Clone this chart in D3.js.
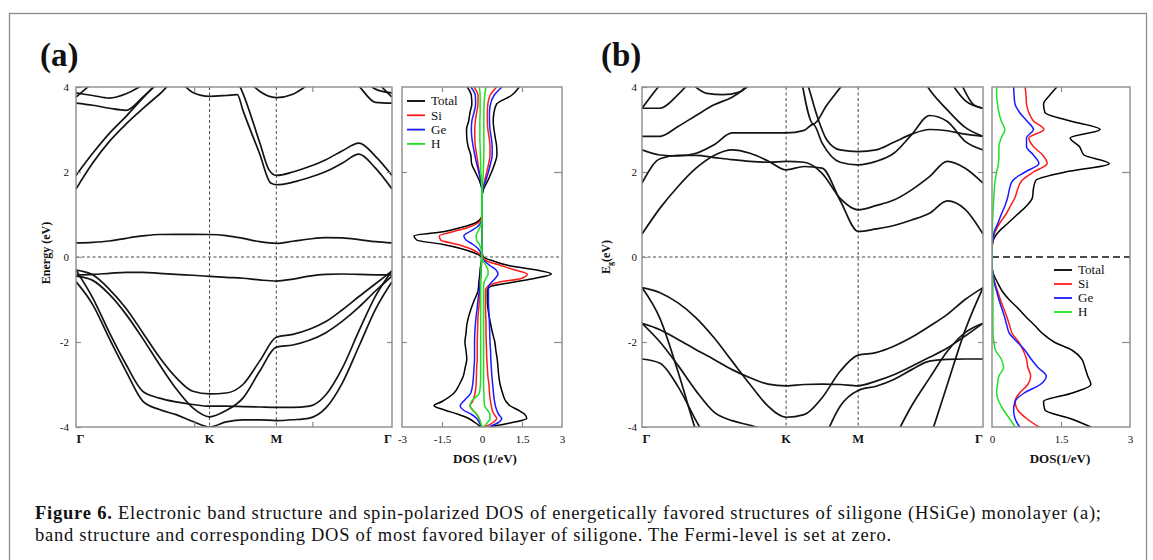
<!DOCTYPE html>
<html>
<head>
<meta charset="utf-8">
<script src="https://cdn.jsdelivr.net/npm/d3@7"></script>
<style>
  body { margin: 0; background: #fff; }
  svg text { font-family: "Liberation Serif", "Times New Roman", serif; fill: #111; }
</style>
</head>
<body>
<svg id="fig" width="1153" height="560"></svg>
<script>
// k-path Γ-K-M-Γ in units of π/a
const kPath = [0, 0.1667, 0.3333, 0.5, 0.6667, 0.8333, 1.0, 1.1667, 1.3333, 1.5, 1.6667, 1.8333, 2.0, 2.165, 2.33, 2.495, 2.66, 2.825, 2.99, 3.155];
const symK = [0, 1.3333, 2.0, 3.155];
const symLabels = ["Γ", "K", "M", "Γ"];
const energyTicks = [-4, -2, 0, 2, 4];

// ---- panel (a) bands (eV) ----
const aFlatUp   = [0.33, 0.345, 0.377, 0.44, 0.495, 0.53, 0.534, 0.534, 0.53, 0.503, 0.44, 0.36, 0.322, 0.37, 0.424, 0.455, 0.448, 0.41, 0.36, 0.33];
const aFlatDown = [-0.424, -0.41, -0.385, -0.36, -0.36, -0.385, -0.41, -0.43, -0.455, -0.48, -0.50, -0.54, -0.566, -0.52, -0.45, -0.41, -0.40, -0.41, -0.42, -0.424];
const aVal1 = [-0.31, -0.42, -0.76, -1.21, -1.78, -2.36, -2.84, -3.16, -3.22, -3.20, -3.00, -2.45, -1.89, -1.82, -1.70, -1.52, -1.24, -0.93, -0.63, -0.33];
const aVal2 = [-0.45, -0.55, -0.88, -1.35, -1.92, -2.53, -3.10, -3.55, -3.76, -3.61, -3.32, -2.69, -2.12, -2.07, -1.96, -1.78, -1.51, -1.18, -0.80, -0.45];
const aVal3 = [-0.31, -0.96, -1.78, -2.53, -3.16, -3.32, -3.41, -3.47, -3.51, -3.51, -3.52, -3.53, -3.54, -3.54, -3.51, -3.24, -2.61, -1.74, -0.92, -0.33];
const aVal4 = [-0.58, -1.12, -1.92, -2.69, -3.39, -3.59, -3.71, -3.87, -4.00, -3.88, -3.83, -3.83, -3.85, -3.83, -3.79, -3.55, -2.96, -2.10, -1.23, -0.58];
const aCond1K = [0, 0.1667, 0.3333, 0.5, 0.6667, 0.8333, 1.0, 1.1667, 1.3333, 1.5, 1.611, 1.6667, 1.8333, 1.944, 2.0, 2.165, 2.33, 2.495, 2.66, 2.825, 2.99, 3.155];
const aCond1E = [1.60, 2.21, 2.72, 3.13, 3.49, 3.83, 4.15, 3.87, 3.78, 3.80, 3.82, 3.45, 2.43, 1.74, 1.70, 1.76, 1.87, 2.01, 2.21, 2.42, 2.09, 1.60];
const aCond2K = [0, 0.1667, 0.3333, 0.5, 0.6667, 0.8333, 1.0, 1.1667, 1.3333, 1.5, 1.6667, 1.8333, 1.927, 2.0, 2.165, 2.33, 2.495, 2.66, 2.825, 2.99, 3.155];
const aCond2E = [1.92, 2.44, 2.91, 3.31, 3.74, 4.13, 4.5, 4.8, 4.9, 4.6, 3.85, 2.70, 2.05, 1.92, 2.0, 2.13, 2.29, 2.50, 2.68, 2.37, 1.92];
const aTopMK = [1.6667, 1.8333, 2.0, 2.165, 2.33, 2.495];
const aTopME = [4.3, 3.90, 3.75, 3.83, 4.08, 4.4];
const aTop1K = [0, 0.1667, 0.3333, 0.5, 0.6667, 0.8333];
const aTop1E = [3.62, 3.57, 3.50, 3.45, 3.76, 4.15];
const aTop1rK = [2.66, 2.825, 2.99, 3.155];
const aTop1rE = [4.4, 4.02, 3.64, 3.62];
const aTop2K = [0, 0.1667, 0.3333, 0.5, 0.6667];
const aTop2E = [3.86, 3.80, 3.74, 3.84, 4.05];
const aTop2rK = [2.825, 2.99, 3.155];
const aTop2rE = [4.3, 3.95, 3.86];
const aTop3K = [0, 0.1667];
const aTop3E = [3.76, 4.1];
const aTop3rK = [2.99, 3.155];
const aTop3rE = [4.15, 3.76];

// ---- panel (b) bands (eV) ----
const bCond1 = [0.54, 1.15, 1.66, 2.09, 2.39, 2.52, 2.44, 2.26, 2.05, 2.13, 2.09, 1.33, 0.60, 0.66, 0.74, 0.87, 1.03, 1.32, 1.12, 0.54];
const bCond2 = [1.74, 2.31, 2.39, 2.39, 2.34, 2.29, 2.25, 2.23, 2.25, 2.23, 1.97, 1.38, 1.11, 1.21, 1.34, 1.58, 1.89, 2.25, 2.09, 1.74];
const bCond3K = [0, 0.1667, 0.3333, 0.5, 0.6667, 0.8333, 1.0, 1.1667, 1.3333, 1.5, 1.585, 1.6667, 1.8333, 2.0, 2.165, 2.33, 2.495, 2.66, 2.825, 2.99, 3.155];
const bCond3E = [2.52, 2.40, 2.38, 2.44, 2.64, 2.92, 2.92, 2.92, 2.92, 2.98, 3.12, 2.68, 2.23, 2.17, 2.25, 2.44, 2.88, 3.33, 3.19, 2.72, 2.52];
const bVeeK = [1.48, 1.585, 1.709, 1.87];
const bVeeE = [4.1, 3.13, 3.57, 4.1];
const bCond5K = [1.50, 1.539, 1.616, 1.709, 1.833, 2.0, 2.165, 2.33, 2.495, 2.66, 2.825, 2.99, 3.155];
const bCond5E = [4.3, 4.01, 3.35, 2.76, 2.52, 2.48, 2.52, 2.70, 2.89, 3.0, 2.97, 2.89, 2.84];
const bTopRK = [2.55, 2.66, 2.825, 2.99, 3.155];
const bTopRE = [4.4, 3.94, 3.46, 3.05, 2.84];
const bTopR2K = [2.86, 2.99, 3.155];
const bTopR2E = [4.1, 3.68, 3.5];
const bTopR3K = [2.95, 3.07, 3.155];
const bTopR3E = [4.1, 3.58, 3.5];
const bTopL1K = [0, 0.1667, 0.3333, 0.5, 0.6667, 0.8333, 1.0];
const bTopL1E = [2.84, 2.84, 3.07, 3.33, 3.58, 3.76, 4.05];
const bTopL2K = [0, 0.1667, 0.3333, 0.5];
const bTopL2E = [3.5, 3.5, 3.82, 4.3];
const bTopL3K = [0, 0.1667, 0.3333];
const bTopL3E = [3.5, 4.05, 4.5];
const bWiggleK = [0.45, 0.6, 0.75, 0.9, 1.0];
const bWiggleE = [4.1, 3.85, 3.82, 3.88, 4.15];
const bVal1 = [-0.72, -0.84, -1.08, -1.43, -1.90, -2.45, -3.0, -3.51, -3.77, -3.71, -3.31, -2.69, -2.31, -2.25, -2.10, -1.89, -1.63, -1.35, -1.0, -0.72];
const bVal3 = [-1.56, -1.71, -1.94, -2.18, -2.41, -2.65, -2.84, -2.99, -3.03, -3.0, -2.99, -3.0, -3.03, -2.92, -2.77, -2.57, -2.36, -2.14, -1.86, -1.56];
const bVal2K = [0, 0.1667, 0.3333, 0.5, 0.6667];
const bVal2E = [-0.72, -1.45, -2.7, -4.1, -5.3];
const bVal4K = [0, 0.1667, 0.3333, 0.5, 0.6667];
const bVal4E = [-2.40, -2.50, -3.05, -3.85, -4.6];
const bVal5K = [0, 0.1667, 0.3333, 0.5, 0.6667, 0.8333, 1.0, 1.1667];
const bVal5E = [-1.56, -2.0, -2.55, -3.15, -3.65, -3.85, -3.96, -4.1];
const bVal6K = [1.6667, 1.8333, 2.0, 2.165, 2.33, 2.495, 2.66, 2.825, 2.99, 3.155];
const bVal6E = [-4.4, -3.51, -3.14, -3.04, -2.88, -2.65, -2.45, -2.41, -2.40, -2.40];
const bVal7K = [2.33, 2.495, 2.66, 2.825, 2.99, 3.155];
const bVal7E = [-4.3, -3.5, -2.85, -2.22, -1.78, -1.56];
const bVal8K = [2.66, 2.825, 2.99, 3.155];
const bVal8E = [-4.3, -3.0, -1.72, -0.72];

// ---- DOS (a), spin-polarized (1/eV) ----
const dosEnergyA = [4.0, 3.8, 3.6, 3.4, 3.2, 3.0, 2.8, 2.6, 2.4, 2.2, 2.0, 1.8, 1.6,
  1.4, 1.2, 1.0, 0.9, 0.8, 0.7, 0.6, 0.5, 0.4, 0.3, 0.2, 0.1, 0.0,
  -0.1, -0.2, -0.3, -0.4, -0.5, -0.6, -0.7, -0.8, -1.0, -1.2, -1.4, -1.6, -1.8, -2.0,
  -2.2, -2.4, -2.6, -2.8, -3.0, -3.2, -3.4, -3.5, -3.6, -3.7, -3.8, -3.9, -4.0];
const totalUpA = [1.40, 1.10, 0.55, 0.45, 0.42, 0.45, 0.50, 0.55, 0.56, 0.48, 0.36, 0.22, 0.06,
  0, 0, 0, 0, 0, 0, 0, 0, 0, 0, 0, 0.01, 0.05,
  0.45, 1.0, 2.0, 2.6, 2.0, 1.1, 0.3, 0.2, 0.2, 0.22, 0.27, 0.33, 0.4, 0.48,
  0.52, 0.57, 0.6, 0.63, 0.68, 0.77, 0.9, 1.05, 1.35, 1.6, 1.68, 1.1, 0.25];
const siUpA = [0.55, 0.30, 0.22, 0.20, 0.20, 0.22, 0.27, 0.30, 0.30, 0.25, 0.18, 0.10, 0.03,
  0, 0, 0, 0, 0, 0, 0, 0, 0, 0, 0, 0, 0.02,
  0.2, 0.7, 1.2, 1.7, 1.5, 0.6, 0.2, 0.13, 0.13, 0.13, 0.14, 0.15, 0.15, 0.16,
  0.17, 0.18, 0.2, 0.22, 0.26, 0.28, 0.32, 0.35, 0.38, 0.45, 0.55, 0.4, 0.1];
const geUpA = [0.75, 0.45, 0.32, 0.28, 0.28, 0.30, 0.35, 0.38, 0.38, 0.32, 0.24, 0.14, 0.04,
  0, 0, 0, 0, 0, 0, 0, 0, 0, 0, 0, 0, 0.01,
  0.1, 0.3, 0.52, 0.6, 0.5, 0.35, 0.24, 0.24, 0.24, 0.25, 0.27, 0.28, 0.29, 0.3,
  0.32, 0.33, 0.35, 0.37, 0.4, 0.43, 0.47, 0.5, 0.55, 0.62, 0.74, 0.6, 0.25];
const hUpA = [0.15, 0.10, 0.08, 0.07, 0.07, 0.07, 0.07, 0.07, 0.07, 0.06, 0.05, 0.03, 0.01,
  0, 0, 0, 0, 0, 0, 0, 0, 0, 0, 0, 0, 0.01,
  0.05, 0.15, 0.22, 0.23, 0.15, 0.08, 0.06, 0.06, 0.06, 0.06, 0.06, 0.06, 0.06, 0.06,
  0.06, 0.06, 0.06, 0.06, 0.06, 0.07, 0.08, 0.1, 0.2, 0.3, 0.3, 0.2, 0.05];
const totalDnA = [-0.55, -0.40, -0.38, -0.45, -0.50, -0.58, -0.57, -0.52, -0.42, -0.39, -0.25, -0.10, -0.01,
  0, 0, 0, -0.05, -0.25, -0.75, -1.4, -2.55, -2.45, -1.5, -0.8, -0.3, -0.02,
  -0.02, -0.05, -0.07, -0.08, -0.1, -0.12, -0.13, -0.15, -0.28, -0.4, -0.5, -0.57, -0.6, -0.64,
  -0.6, -0.57, -0.63, -0.7, -0.85, -1.05, -1.5, -1.8, -1.4, -0.9, -0.5, -0.25, -0.05];
const siDnA = [-0.30, -0.15, -0.15, -0.20, -0.25, -0.27, -0.27, -0.25, -0.20, -0.15, -0.10, -0.04, 0,
  0, 0, 0, -0.03, -0.15, -0.5, -1.05, -1.6, -1.55, -0.95, -0.45, -0.15, 0,
  -0.01, -0.02, -0.03, -0.04, -0.05, -0.06, -0.07, -0.08, -0.1, -0.12, -0.15, -0.16, -0.17, -0.18,
  -0.18, -0.18, -0.2, -0.21, -0.22, -0.26, -0.35, -0.45, -0.35, -0.2, -0.12, -0.06, 0];
const geDnA = [-0.42, -0.25, -0.24, -0.30, -0.38, -0.40, -0.38, -0.33, -0.27, -0.20, -0.12, -0.05, 0,
  0, 0, 0, 0, -0.05, -0.2, -0.45, -0.68, -0.6, -0.35, -0.15, -0.05, 0,
  -0.02, -0.03, -0.04, -0.05, -0.06, -0.07, -0.08, -0.1, -0.15, -0.18, -0.22, -0.25, -0.27, -0.28,
  -0.28, -0.28, -0.3, -0.32, -0.35, -0.42, -0.7, -0.82, -0.7, -0.4, -0.2, -0.1, -0.02];
const hDnA = [-0.10, -0.07, -0.07, -0.07, -0.08, -0.08, -0.08, -0.07, -0.06, -0.05, -0.04, -0.02, 0,
  0, 0, 0, 0, -0.02, -0.08, -0.15, -0.22, -0.2, -0.1, -0.04, -0.01, 0,
  -0.02, -0.03, -0.04, -0.04, -0.05, -0.05, -0.05, -0.05, -0.05, -0.05, -0.05, -0.05, -0.05, -0.05,
  -0.05, -0.05, -0.05, -0.05, -0.06, -0.1, -0.4, -0.45, -0.35, -0.2, -0.1, -0.05, -0.01];

// ---- DOS (b) (1/eV) ----
const dosEnergyB = [4.0, 3.8, 3.6, 3.4, 3.2, 3.0, 2.8, 2.6, 2.4, 2.2, 2.0, 1.8, 1.6, 1.4, 1.2, 1.0, 0.8, 0.6, 0.4, 0.2,
  0.0, -0.2, -0.4, -0.6, -0.8, -1.0, -1.2, -1.4, -1.6, -1.8, -2.0, -2.2, -2.4, -2.6, -2.8, -3.0, -3.2, -3.4, -3.6, -3.8, -4.0];
const totalB = [1.41, 1.25, 1.12, 1.15, 1.7, 2.35, 1.7, 1.9, 2.0, 2.55, 1.6, 0.95, 0.9, 0.88, 0.75, 0.55, 0.35, 0.15, 0.03, 0,
  0, 0, 0.03, 0.12, 0.22, 0.37, 0.56, 0.73, 0.92, 1.1, 1.35, 1.75, 1.95, 2.02, 2.08, 2.15, 1.75, 1.12, 1.15, 1.7, 2.15];
const siB = [0.72, 0.74, 0.75, 0.8, 0.9, 1.13, 0.8, 0.9, 1.1, 1.2, 0.9, 0.65, 0.56, 0.5, 0.4, 0.3, 0.17, 0.07, 0.02, 0,
  0, 0, 0.02, 0.06, 0.12, 0.18, 0.25, 0.32, 0.38, 0.44, 0.58, 0.68, 0.75, 0.78, 0.84, 0.78, 0.6, 0.5, 0.56, 0.75, 1.02];
const geB = [0.47, 0.48, 0.5, 0.6, 0.76, 0.9, 0.75, 0.75, 0.9, 1.02, 0.72, 0.45, 0.38, 0.34, 0.28, 0.2, 0.13, 0.05, 0.02, 0,
  0, 0, 0.02, 0.05, 0.1, 0.15, 0.21, 0.27, 0.32, 0.38, 0.55, 0.72, 0.85, 1.0, 1.18, 1.05, 0.7, 0.5, 0.47, 0.5, 0.6];
const hB = [0.1, 0.1, 0.12, 0.15, 0.2, 0.28, 0.2, 0.15, 0.15, 0.14, 0.1, 0.07, 0.05, 0.04, 0.03, 0.02, 0.01, 0.01, 0, 0,
  0, 0, 0.01, 0.02, 0.02, 0.02, 0.02, 0.02, 0.02, 0.02, 0.04, 0.08, 0.2, 0.25, 0.15, 0.12, 0.1, 0.15, 0.25, 0.38, 0.5];

const legendNames = ["Total", "Si", "Ge", "H"];
const legendColors = ["#000000", "#ff1a1a", "#1a1aff", "#22e022"];

// ---------------------------------------------------------------
const svg = d3.select("#fig");
const plotTop = 87, plotBottom = 427;
const yE = d3.scaleLinear().domain([-4, 4]).range([plotBottom, plotTop]);
const frameColor = "#8c8c8c";

// outer figure box
svg.append("rect")
  .attr("x", 9.5).attr("y", 13.5).attr("width", 1137).attr("height", 600)
  .attr("fill", "none").attr("stroke", "#8c8c8c").attr("stroke-width", 1.3);

let clipCount = 0;
function makeClip(x0, x1) {
  const id = "clip" + (clipCount++);
  svg.append("clipPath").attr("id", id)
    .append("rect").attr("x", x0).attr("y", plotTop).attr("width", x1 - x0).attr("height", plotBottom - plotTop);
  return "url(#" + id + ")";
}

function styleAxis(g) {
  g.select(".domain").remove();
  g.selectAll(".tick line").attr("stroke", frameColor).attr("stroke-width", 1.2);
  g.selectAll(".tick text").attr("font-size", 11).attr("fill", "#111")
    .attr("font-family", "Liberation Serif, serif");
}

function yAxes(x0, x1, pad) {
  svg.append("g").attr("transform", `translate(${x0},0)`)
    .call(d3.axisLeft(yE).tickValues(energyTicks).tickSizeInner(-5).tickSizeOuter(0)
      .tickPadding(pad).tickFormat(d => String(d)))
    .call(styleAxis);
  svg.append("g").attr("transform", `translate(${x1},0)`)
    .call(d3.axisRight(yE).tickValues([-2, 2]).tickSizeInner(-5).tickSizeOuter(0).tickFormat(""))
    .call(styleAxis);
}

function frameRect(x0, x1) {
  svg.append("rect").attr("x", x0).attr("y", plotTop).attr("width", x1 - x0).attr("height", plotBottom - plotTop)
    .attr("fill", "none").attr("stroke", frameColor).attr("stroke-width", 1.4);
}

function dashedH(x0, x1, dash, width, color) {
  svg.append("line").attr("x1", x0).attr("x2", x1).attr("y1", yE(0)).attr("y2", yE(0))
    .attr("stroke", color).attr("stroke-width", width).attr("stroke-dasharray", dash);
}

function bandPanel(x0, x1, bands, extraTicks) {
  const x = d3.scaleLinear().domain([0, 3.155]).range([x0, x1]);
  const clip = makeClip(x0, x1);
  // high symmetry dashed verticals
  [symK[1], symK[2]].forEach(k => {
    svg.append("line").attr("x1", x(k)).attr("x2", x(k)).attr("y1", plotTop).attr("y2", plotBottom)
      .attr("stroke", "#333").attr("stroke-width", 0.9).attr("stroke-dasharray", "3,2.5");
  });
  dashedH(x0, x1, "3,2.5", 0.9, "#333");

  const line = d3.line().x(d => x(d[0])).y(d => yE(d[1])).curve(d3.curveMonotoneX);
  const g = svg.append("g").attr("clip-path", clip);
  bands.forEach(([ks, es]) => {
    g.append("path").datum(ks.map((k, i) => [k, es[i]]))
      .attr("d", line).attr("fill", "none").attr("stroke", "#141414").attr("stroke-width", 1.7);
  });

  if (extraTicks.length) {
    svg.append("g").attr("transform", `translate(0,${plotBottom})`)
      .call(d3.axisBottom(x).tickValues(extraTicks).tickSizeInner(-5).tickSizeOuter(0).tickFormat(""))
      .call(styleAxis);
    svg.append("g").attr("transform", `translate(0,${plotTop})`)
      .call(d3.axisTop(x).tickValues(extraTicks).tickSizeInner(-5).tickSizeOuter(0).tickFormat(""))
      .call(styleAxis);
  }
  frameRect(x0, x1);

  // k-point labels
  symK.forEach((k, i) => {
    const anchor = i === 0 ? "start" : (i === symK.length - 1 ? "end" : "middle");
    svg.append("text").attr("x", x(k) + (i === 0 ? 0.5 : 0)).attr("y", 443)
      .attr("text-anchor", anchor).attr("font-size", 12.5).attr("font-weight", "bold")
      .text(symLabels[i]);
  });
  return x;
}

function dosPanel(x0, x1, domain, sets, labelTicks, minorTicks, zeroStyle) {
  const x = d3.scaleLinear().domain(domain).range([x0, x1]);
  const clip = makeClip(x0, x1);
  dashedH(x0, x1, zeroStyle.dash, zeroStyle.width, zeroStyle.color);
  const line = d3.line().x(d => x(d[1])).y(d => yE(d[0])).curve(d3.curveMonotoneY);
  const g = svg.append("g").attr("clip-path", clip);
  sets.forEach(s => {
    g.append("path").datum(s.e.map((e, i) => [e, s.v[i]]))
      .attr("d", line).attr("fill", "none").attr("stroke", s.c).attr("stroke-width", 1.5);
  });
  svg.append("g").attr("transform", `translate(0,${plotBottom})`)
    .call(d3.axisBottom(x).tickValues(minorTicks).tickSizeInner(-5).tickSizeOuter(0).tickFormat(""))
    .call(styleAxis);
  svg.append("g").attr("transform", `translate(0,${plotTop})`)
    .call(d3.axisTop(x).tickValues(minorTicks).tickSizeInner(-5).tickSizeOuter(0).tickFormat(""))
    .call(styleAxis);
  svg.append("g").attr("transform", `translate(0,${plotBottom})`)
    .call(d3.axisBottom(x).tickValues(labelTicks).tickSize(0).tickPadding(8).tickFormat(d => String(d)))
    .call(styleAxis);
  svg.append("g").attr("transform", `translate(${x0},0)`)
    .call(d3.axisLeft(yE).tickValues([-2, 2]).tickSizeInner(-5).tickSizeOuter(0).tickFormat(""))
    .call(styleAxis);
  svg.append("g").attr("transform", `translate(${x1},0)`)
    .call(d3.axisRight(yE).tickValues([-2, 2]).tickSizeInner(-8).tickSizeOuter(0).tickFormat(""))
    .call(styleAxis);
  frameRect(x0, x1);
  return x;
}

function legend(x, y0, step) {
  legendNames.forEach((name, i) => {
    const y = y0 + i * step;
    svg.append("line").attr("x1", x).attr("x2", x + 18).attr("y1", y).attr("y2", y)
      .attr("stroke", legendColors[i]).attr("stroke-width", 1.8);
    svg.append("text").attr("x", x + 24).attr("y", y).attr("dy", "0.33em")
      .attr("font-size", 13).text(name);
  });
}

// ---------------- panel (a) ----------------
const bandsA = [
  [kPath, aFlatUp], [kPath, aFlatDown], [kPath, aVal1], [kPath, aVal2], [kPath, aVal3], [kPath, aVal4],
  [aCond1K, aCond1E], [aCond2K, aCond2E], [aTopMK, aTopME],
  [aTop1K, aTop1E], [aTop1rK, aTop1rE], [aTop2K, aTop2E], [aTop2rK, aTop2rE], [aTop3K, aTop3E], [aTop3rK, aTop3rE]
];
bandPanel(76, 392, bandsA, [1.18, 2.36]);
yAxes(76, 392, 7);

const dosSetsA = [
  { e: dosEnergyA, v: totalUpA, c: legendColors[0] }, { e: dosEnergyA, v: totalDnA, c: legendColors[0] },
  { e: dosEnergyA, v: siUpA, c: legendColors[1] }, { e: dosEnergyA, v: siDnA, c: legendColors[1] },
  { e: dosEnergyA, v: geUpA, c: legendColors[2] }, { e: dosEnergyA, v: geDnA, c: legendColors[2] },
  { e: dosEnergyA, v: hUpA, c: legendColors[3] }, { e: dosEnergyA, v: hDnA, c: legendColors[3] }
];
dosPanel(402, 562, [-3, 3], dosSetsA, [-3, -1.5, 0, 1.5, 3], [-1.5, 1.5],
  { dash: "3,2.5", width: 0.9, color: "#333" });
legend(407, 101, 14.3);

// ---------------- panel (b) ----------------
const bandsB = [
  [kPath, bCond1], [kPath, bCond2], [bCond3K, bCond3E], [bVeeK, bVeeE], [bCond5K, bCond5E],
  [bTopRK, bTopRE], [bTopR2K, bTopR2E], [bTopR3K, bTopR3E],
  [bTopL1K, bTopL1E], [bTopL2K, bTopL2E], [bTopL3K, bTopL3E], [bWiggleK, bWiggleE],
  [kPath, bVal1], [kPath, bVal3], [bVal2K, bVal2E], [bVal4K, bVal4E], [bVal5K, bVal5E],
  [bVal6K, bVal6E], [bVal7K, bVal7E], [bVal8K, bVal8E]
];
bandPanel(642, 983, bandsB, []);
yAxes(642, 983, 5);

const dosSetsB = [
  { e: dosEnergyB, v: totalB, c: legendColors[0] },
  { e: dosEnergyB, v: siB, c: legendColors[1] },
  { e: dosEnergyB, v: geB, c: legendColors[2] },
  { e: dosEnergyB, v: hB, c: legendColors[3] }
];
dosPanel(992, 1130, [0, 3], dosSetsB, [0, 1.5, 3], [1.5],
  { dash: "7,4", width: 1.6, color: "#111" });
legend(1054, 270, 14);

// ---------------- titles & labels ----------------
svg.append("text").attr("x", 40).attr("y", 66).attr("font-size", 33).attr("font-weight", "bold").text("(a)");
svg.append("text").attr("x", 601).attr("y", 66).attr("font-size", 33).attr("font-weight", "bold").text("(b)");

svg.append("text").attr("transform", "translate(50,253) rotate(-90)")
  .attr("text-anchor", "middle").attr("font-size", 12).attr("font-weight", "bold").text("Energy (eV)");
const eg = svg.append("text").attr("transform", "translate(610,257) rotate(-90)")
  .attr("text-anchor", "middle").attr("font-size", 12).attr("font-weight", "bold");
eg.append("tspan").text("E");
eg.append("tspan").attr("font-size", 8).attr("dy", 3).text("g");
eg.append("tspan").attr("dy", -3).text("(eV)");

svg.append("text").attr("x", 485).attr("y", 463).attr("text-anchor", "middle")
  .attr("font-size", 13).attr("font-weight", "bold").text("DOS (1/eV)");
svg.append("text").attr("x", 1060).attr("y", 463).attr("text-anchor", "middle")
  .attr("font-size", 13).attr("font-weight", "bold").text("DOS(1/eV)");

// caption
const cap1 = svg.append("text").attr("x", 35).attr("y", 519).attr("font-size", 18.5)
  .attr("textLength", 1066).attr("lengthAdjust", "spacing");
cap1.append("tspan").attr("font-weight", "bold").text("Figure 6.");
cap1.append("tspan").text(" Electronic band structure and spin-polarized DOS of energetically favored structures of siligone (HSiGe) monolayer (a);");
svg.append("text").attr("x", 35).attr("y", 541).attr("font-size", 18.5)
  .attr("textLength", 856).attr("lengthAdjust", "spacing")
  .text("band structure and corresponding DOS of most favored bilayer of siligone. The Fermi-level is set at zero.");
</script>
</body>
</html>
